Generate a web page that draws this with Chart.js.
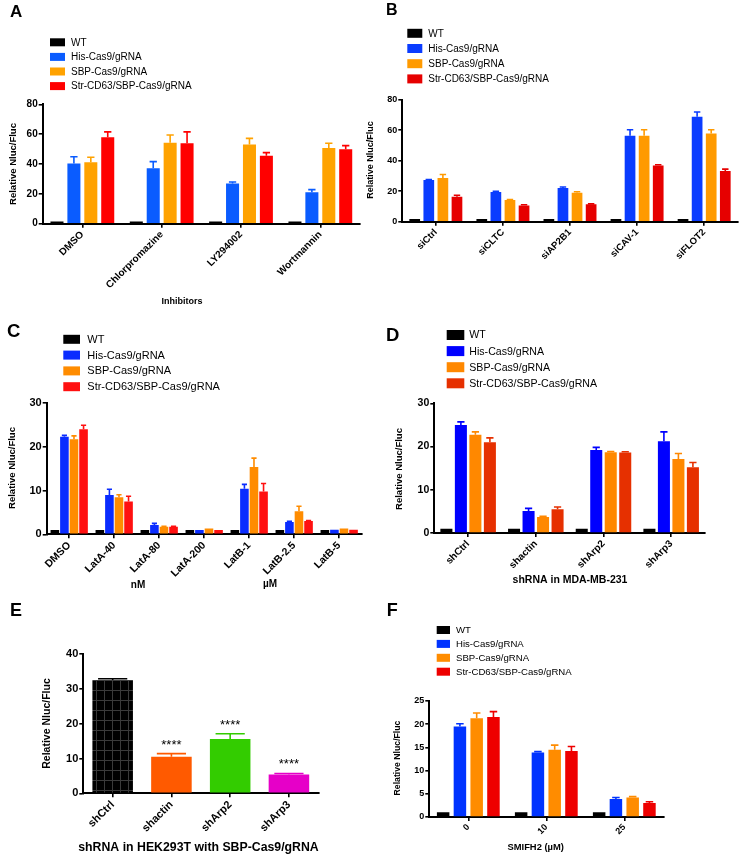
<!DOCTYPE html>
<html>
<head>
<meta charset="utf-8">
<title>Relative Nluc/Fluc</title>
<script src="https://cdn.jsdelivr.net/npm/chart.js@4.4.1/dist/chart.umd.min.js"></script>
<style>
  html, body { margin: 0; padding: 0; background: #fff; }
  #figure { position: relative; width: 743px; height: 857px; overflow: hidden; }
  #figure canvas { position: absolute; }
</style>
</head>
<body>
<div id="figure"></div>
<script>
// ---- data ----
const seriesNames = ['WT', 'His-Cas9/gRNA', 'SBP-Cas9/gRNA', 'Str-CD63/SBP-Cas9/gRNA'];

// A: inhibitors
const inhibCats = ['DMSO', 'Chlorpromazine', 'LY294002', 'Wortmannin'];
const inhibWT = [1.4, 1.4, 1.4, 1.4];
const inhibHis = [40.4, 37.1, 27.0, 21.0];
const inhibSBP = [41.1, 54.3, 53.0, 50.7];
const inhibStr = [57.9, 53.9, 45.6, 49.8];
const inhibHisErr = [4.5, 4.5, 0.9, 1.8];
const inhibSBPErr = [3.4, 5.1, 4.2, 3.2];
const inhibStrErr = [3.6, 7.6, 2.0, 2.5];

// B: siRNA
const siCats = ['siCtrl', 'siCLTC', 'siAP2B1', 'siCAV-1', 'siFLOT2'];
const siWT = [1.7, 1.7, 1.7, 1.7, 1.7];
const siHis = [27.3, 19.5, 22.1, 56.4, 68.9];
const siSBP = [28.6, 14.2, 19.0, 56.4, 57.9];
const siStr = [16.4, 10.7, 11.4, 36.9, 33.2];
const siHisErr = [0.4, 0.4, 0.7, 3.9, 3.0];
const siSBPErr = [2.4, 0.4, 0.6, 3.9, 2.4];
const siStrErr = [0.9, 0.4, 0.3, 0.4, 1.3];

// C: latrunculin
const latCats = ['DMSO', 'LatA-40', 'LatA-80', 'LatA-200', 'LatB-1', 'LatB-2.5', 'LatB-5'];
const latWT = [1, 1, 1, 1, 1, 1, 1];
const latHis = [22.3, 9.0, 2.1, 1.0, 10.4, 2.8, 1.05];
const latSBP = [21.7, 8.45, 1.7, 1.3, 15.4, 5.25, 1.3];
const latStr = [24.0, 7.5, 1.7, 1.0, 9.8, 3.05, 1.05];
const latHisErr = [0.3, 1.3, 0.4, 0, 1.0, 0.15, 0];
const latSBPErr = [0.8, 0.6, 0.1, 0, 2.0, 1.15, 0];
const latStrErr = [0.9, 1.2, 0.1, 0, 1.8, 0.1, 0];

// D: shRNA in MDA-MB-231
const mdaCats = ['shCtrl', 'shactin', 'shArp2', 'shArp3'];
const mdaWT = [1, 1, 1, 1];
const mdaHis = [25.0, 5.1, 19.2, 21.2];
const mdaSBP = [22.7, 3.7, 18.7, 17.1];
const mdaStr = [21.0, 5.5, 18.6, 15.2];
const mdaHisErr = [0.7, 0.6, 0.6, 2.2];
const mdaSBPErr = [0.7, 0.15, 0.15, 1.3];
const mdaStrErr = [1.0, 0.5, 0.2, 1.1];

// E: shRNA in HEK293T
const hekCats = ['shCtrl', 'shactin', 'shArp2', 'shArp3'];
const hekVals = [32.5, 10.5, 15.6, 5.4];
const hekErr = [0.4, 0.9, 1.5, 0.3];
const hekSig = ['', '****', '****', '****'];

// F: SMIFH2
const smifhCats = ['0', '10', '25'];
const smifhWT = [1, 1, 1];
const smifhHis = [19.5, 13.9, 3.9];
const smifhSBP = [21.3, 14.5, 4.2];
const smifhStr = [21.55, 14.2, 3.0];
const smifhHisErr = [0.6, 0.2, 0.3];
const smifhSBPErr = [1.1, 1.0, 0.2];
const smifhStrErr = [1.15, 1.0, 0.3];

const FONT = '"Liberation Sans", Arial, Helvetica, sans-serif';
Chart.defaults.font.family = FONT;
Chart.defaults.color = '#000';

// ---- plugins ----
const errorBars = {
  id: 'errorBars',
  afterDatasetsDraw(chart, args, opts) {
    const ctx = chart.ctx, y = chart.scales.y;
    chart.data.datasets.forEach((ds, i) => {
      if (!ds.errors) return;
      chart.getDatasetMeta(i).data.forEach((bar, j) => {
        const e = ds.errors[j];
        if (!e) return;
        const top = y.getPixelForValue(ds.data[j] + e);
        const half = bar.width * (opts.cap || 0.6) / 2;
        ctx.save();
        ctx.strokeStyle = Array.isArray(ds.errorColor) ? ds.errorColor[j] : ds.errorColor;
        ctx.lineWidth = 1.6;
        ctx.beginPath();
        ctx.moveTo(bar.x, bar.y);
        ctx.lineTo(bar.x, top);
        ctx.moveTo(bar.x - half, top);
        ctx.lineTo(bar.x + half, top);
        ctx.stroke();
        if (ds.sig && ds.sig[j]) {
          ctx.fillStyle = '#000';
          ctx.font = '13px ' + FONT;
          ctx.textAlign = 'center';
          ctx.textBaseline = 'alphabetic';
          ctx.fillText(ds.sig[j], bar.x, top - 5);
        }
        ctx.restore();
      });
    });
  }
};

const boxLegend = {
  id: 'boxLegend',
  afterDraw(chart, args, o) {
    if (!o || o.x === undefined) return;
    const ctx = chart.ctx;
    ctx.save();
    ctx.font = o.size + 'px ' + FONT;
    ctx.textBaseline = 'middle';
    ctx.textAlign = 'left';
    chart.data.datasets.forEach((ds, i) => {
      const cy = o.y + i * o.step;
      ctx.fillStyle = ds.backgroundColor;
      ctx.fillRect(o.x, cy - o.boxH / 2, o.boxW, o.boxH);
      ctx.fillStyle = '#000';
      ctx.fillText(ds.label, o.textX, cy + 0.5);
    });
    ctx.restore();
  }
};

const panelText = {
  id: 'panelText',
  afterDraw(chart, args, o) {
    if (!o || !o.items) return;
    const ctx = chart.ctx;
    o.items.forEach(it => {
      ctx.save();
      ctx.fillStyle = '#000';
      ctx.font = it.font + ' ' + FONT;
      ctx.translate(it.x, it.y);
      if (it.rot) ctx.rotate(-Math.PI / 2);
      ctx.textAlign = it.align || 'center';
      ctx.textBaseline = it.base || 'middle';
      ctx.fillText(it.text, 0, 0);
      ctx.restore();
    });
  }
};

function grouped(values, errors, colors, barPct, catPct) {
  return seriesNames.map((name, i) => ({
    label: name,
    data: values[i],
    errors: errors[i],
    backgroundColor: colors[i],
    errorColor: colors[i],
    borderWidth: 0,
    barPercentage: barPct,
    categoryPercentage: catPct
  }));
}

function makePanel(p) {
  const canvas = document.createElement('canvas');
  canvas.width = p.box.w;
  canvas.height = p.box.h;
  canvas.style.left = p.box.left + 'px';
  canvas.style.top = p.box.top + 'px';
  canvas.style.width = p.box.w + 'px';
  canvas.style.height = p.box.h + 'px';
  document.getElementById('figure').appendChild(canvas);
  const a = p.area;
  return new Chart(canvas, {
    type: 'bar',
    data: { labels: p.cats, datasets: p.datasets },
    options: {
      responsive: false,
      animation: false,
      devicePixelRatio: 1,
      layout: { padding: { left: 0, top: a.t, right: p.box.w - a.r, bottom: 0 } },
      scales: {
        x: {
          afterFit: s => { s.height = p.box.h - a.b; },
          grid: { display: true, offset: false, drawOnChartArea: false, drawTicks: true, tickLength: 4, lineWidth: 1.6, color: '#000' },
          border: { display: true, width: 2, color: '#000' },
          ticks: { autoSkip: false, minRotation: 45, maxRotation: 45, padding: 1, color: '#000',
                   font: { size: p.xFont, weight: 'bold' } }
        },
        y: {
          min: 0, max: p.yMax,
          afterFit: s => { s.width = a.l; },
          grid: { display: true, drawOnChartArea: false, drawTicks: true, tickLength: 4, lineWidth: 1.6, color: '#000' },
          border: { display: true, width: 2, color: '#000' },
          ticks: { stepSize: p.yStep, padding: 1, color: '#000', font: { size: p.yFont, weight: 'bold' } }
        }
      },
      plugins: {
        legend: { display: false },
        tooltip: { enabled: false },
        errorBars: { cap: p.cap },
        boxLegend: p.legend || {},
        panelText: { items: p.texts }
      }
    },
    plugins: [errorBars, boxLegend, panelText]
  });
}

// grid pattern for the black shCtrl bar in E
function gridPattern() {
  const c = document.createElement('canvas');
  c.width = 8; c.height = 10;
  const g = c.getContext('2d');
  g.fillStyle = '#000';
  g.fillRect(0, 0, 8, 10);
  g.fillStyle = '#3a3a3a';
  g.fillRect(0, 0, 1, 10);
  g.fillRect(0, 0, 8, 1);
  return g.createPattern(c, 'repeat');
}

// ---- panels ----
makePanel({
  box: { left: 0, top: 0, w: 371, h: 310 },
  area: { l: 42.7, t: 104.3, r: 360, b: 223.7 },
  cats: inhibCats,
  datasets: grouped([inhibWT, inhibHis, inhibSBP, inhibStr], [null, inhibHisErr, inhibSBPErr, inhibStrErr],
                    ['#000000', '#0a5cff', '#ffa200', '#ff0000'], 0.77, 0.853),
  yMax: 80, yStep: 20, yFont: 10, xFont: 10, cap: 0.56,
  legend: { x: 50, y: 42.3, step: 14.6, boxW: 15, boxH: 8, textX: 71, size: 10 },
  texts: [
    { text: 'A', x: 10, y: 17, font: 'bold 17px', align: 'left', base: 'alphabetic' },
    { text: 'Relative Nluc/Fluc', x: 13, y: 164, font: 'bold 9.5px', rot: true },
    { text: 'Inhibitors', x: 182, y: 302, font: 'bold 9px' }
  ]
});

makePanel({
  box: { left: 360, top: 0, w: 383, h: 300 },
  area: { l: 42.3, t: 99.7, r: 377.7, b: 221.7 },
  cats: siCats,
  datasets: grouped([siWT, siHis, siSBP, siStr], [null, siHisErr, siSBPErr, siStrErr],
                    ['#000000', '#0a3cff', '#ff9a00', '#e60000'], 0.76, 0.84),
  yMax: 80, yStep: 20, yFont: 9, xFont: 9.5, cap: 0.6,
  legend: { x: 47.3, y: 33.3, step: 15.2, boxW: 15, boxH: 9, textX: 68.3, size: 10 },
  texts: [
    { text: 'B', x: 26, y: 15, font: 'bold 16px', align: 'left', base: 'alphabetic' },
    { text: 'Relative Nluc/Fluc', x: 11, y: 160, font: 'bold 9px', rot: true }
  ]
});

makePanel({
  box: { left: 0, top: 310, w: 371, h: 290 },
  area: { l: 46.7, t: 93, r: 361.7, b: 224.3 },
  cats: latCats,
  datasets: grouped([latWT, latHis, latSBP, latStr], [null, latHisErr, latSBPErr, latStrErr],
                    ['#000000', '#0a2cff', '#ff8c00', '#ff1010'], 0.9, 0.85),
  yMax: 30, yStep: 10, yFont: 11, xFont: 10.5, cap: 0.6,
  legend: { x: 63.3, y: 29.3, step: 15.8, boxW: 16.7, boxH: 9, textX: 87.3, size: 11 },
  texts: [
    { text: 'C', x: 7, y: 26.7, font: 'bold 18.5px', align: 'left', base: 'alphabetic' },
    { text: 'Relative Nluc/Fluc', x: 12, y: 158, font: 'bold 9.5px', rot: true },
    { text: 'nM', x: 138, y: 275, font: 'bold 10px' },
    { text: 'µM', x: 270, y: 274, font: 'bold 10px' }
  ]
});

makePanel({
  box: { left: 371, top: 300, w: 372, h: 300 },
  area: { l: 63.3, t: 103.3, r: 334, b: 233 },
  cats: mdaCats,
  datasets: grouped([mdaWT, mdaHis, mdaSBP, mdaStr], [null, mdaHisErr, mdaSBPErr, mdaStrErr],
                    ['#000000', '#0000ff', '#ff8800', '#e63000'], 0.83, 0.857),
  yMax: 30, yStep: 10, yFont: 10.5, xFont: 10, cap: 0.6,
  legend: { x: 75.7, y: 35, step: 16.1, boxW: 17.6, boxH: 10, textX: 98.3, size: 10.6 },
  texts: [
    { text: 'D', x: 15, y: 41, font: 'bold 18.5px', align: 'left', base: 'alphabetic' },
    { text: 'Relative Nluc/Fluc', x: 28, y: 169, font: 'bold 9.5px', rot: true },
    { text: 'shRNA in MDA-MB-231', x: 199, y: 280, font: 'bold 10.5px' }
  ]
});

const eColors = ['#ff5a00', '#33cc00', '#e600c8'];
const ePanel = makePanel({
  box: { left: 0, top: 600, w: 371, h: 257 },
  area: { l: 83.3, t: 54, r: 318.3, b: 193.3 },
  cats: hekCats,
  datasets: [{
    label: 'SBP-Cas9/gRNA',
    data: hekVals,
    errors: hekErr,
    sig: hekSig,
    backgroundColor: ['#000000'].concat(eColors),
    errorColor: ['#000000'].concat(eColors),
    borderWidth: 0,
    barPercentage: 0.69,
    categoryPercentage: 1
  }],
  yMax: 40, yStep: 10, yFont: 11, xFont: 11, cap: 0.72,
  legend: null,
  texts: [
    { text: 'E', x: 10, y: 16, font: 'bold 18px', align: 'left', base: 'alphabetic' },
    { text: 'Relative Nluc/Fluc', x: 46.7, y: 123.5, font: 'bold 10.5px', rot: true },
    { text: 'shRNA in HEK293T with SBP-Cas9/gRNA', x: 198.5, y: 248, font: 'bold 12.3px' }
  ]
});
ePanel.data.datasets[0].backgroundColor[0] = gridPattern();
ePanel.update();

makePanel({
  box: { left: 371, top: 600, w: 372, h: 257 },
  area: { l: 58.3, t: 101, r: 292.3, b: 217 },
  cats: smifhCats,
  datasets: grouped([smifhWT, smifhHis, smifhSBP, smifhStr], [null, smifhHisErr, smifhSBPErr, smifhStrErr],
                    ['#000000', '#0033ff', '#ff8c00', '#ee0000'], 0.745, 0.86),
  yMax: 25, yStep: 5, yFont: 9, xFont: 9, cap: 0.6,
  legend: { x: 65.7, y: 30, step: 13.9, boxW: 13.3, boxH: 8, textX: 85, size: 9.6 },
  texts: [
    { text: 'F', x: 15.7, y: 16, font: 'bold 18px', align: 'left', base: 'alphabetic' },
    { text: 'Relative Nluc/Fluc', x: 27, y: 158, font: 'bold 8.7px', rot: true },
    { text: 'SMIFH2 (µM)', x: 164.7, y: 247, font: 'bold 9.4px' }
  ]
});
</script>
</body>
</html>
